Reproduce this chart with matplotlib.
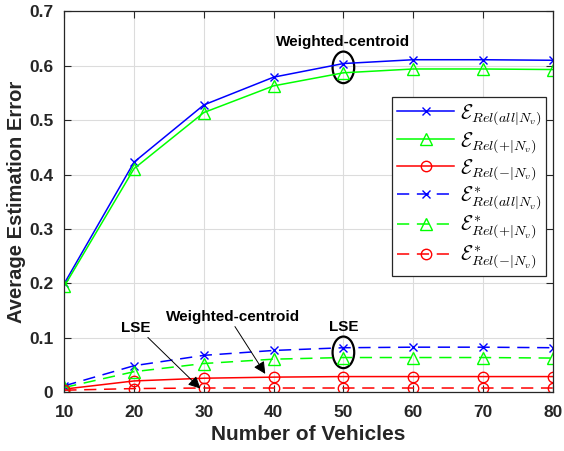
import matplotlib
matplotlib.use('Agg')
import matplotlib.pyplot as plt
from matplotlib.patches import Ellipse

plt.rcParams['font.family'] = 'Liberation Sans'
plt.rcParams['font.weight'] = 'bold'
plt.rcParams['mathtext.fontset'] = 'cm'

vehicles = [10, 20, 30, 40, 50, 60, 70, 80]
rel_all = [0.200, 0.423, 0.528, 0.579, 0.604, 0.611, 0.611, 0.610]
rel_pos = [0.195, 0.411, 0.514, 0.563, 0.587, 0.594, 0.594, 0.593]
rel_neg = [0.006, 0.021, 0.026, 0.028, 0.029, 0.029, 0.029, 0.029]
rel_all_s = [0.012, 0.049, 0.068, 0.077, 0.082, 0.083, 0.083, 0.082]
rel_pos_s = [0.009, 0.038, 0.053, 0.061, 0.064, 0.064, 0.064, 0.063]
rel_neg_s = [0.004, 0.007, 0.008, 0.008, 0.008, 0.008, 0.008, 0.008]

dark = '#262626'
green = (0, 1, 0)
dash = (0, (8, 5))

fig, ax = plt.subplots(figsize=(5.64, 4.51), dpi=100)
lw = 1.1
ax.plot(vehicles, rel_all, color='b', marker='x', ms=5.5, lw=lw,
        label=r'$\mathcal{E}_{Rel(all|N_v)}$')
ax.plot(vehicles, rel_pos, color=green, marker='^', ms=8, mfc='none', lw=lw,
        label=r'$\mathcal{E}_{Rel(+|N_v)}$')
ax.plot(vehicles, rel_neg, color='r', marker='o', ms=7.5, mfc='none', lw=lw,
        label=r'$\mathcal{E}_{Rel(-|N_v)}$')
ax.plot(vehicles, rel_all_s, color='b', marker='x', ms=5.5, lw=lw, ls=dash,
        label=r'$\mathcal{E}^*_{Rel(all|N_v)}$')
ax.plot(vehicles, rel_pos_s, color=green, marker='^', ms=8, mfc='none', lw=lw,
        ls=dash, label=r'$\mathcal{E}^*_{Rel(+|N_v)}$')
ax.plot(vehicles, rel_neg_s, color='r', marker='o', ms=7.5, mfc='none', lw=lw,
        ls=dash, label=r'$\mathcal{E}^*_{Rel(-|N_v)}$')

# circled groups and their method labels
ax.add_patch(Ellipse((50, 0.597), 3.1, 0.058, fill=False, color='k', lw=1.6))
ax.text(50, 0.630, 'Weighted-centroid', ha='center', va='bottom', fontsize=11, fontweight='bold')
ax.add_patch(Ellipse((50, 0.0735), 3.1, 0.058, fill=False, color='k', lw=1.6))
ax.text(50, 0.108, 'LSE', ha='center', va='bottom', fontsize=11, fontweight='bold')

ax.annotate('LSE', xy=(29.5, 0.007), xytext=(20.3, 0.106), ha='center', va='bottom',
            fontsize=11, fontweight='bold',
            arrowprops=dict(arrowstyle='-|>', color='k', lw=0.7, mutation_scale=18,
                            shrinkA=0, shrinkB=0, relpos=(0.8, 0)))
ax.annotate('Weighted-centroid', xy=(38.8, 0.034), xytext=(34.2, 0.126), ha='center', va='bottom',
            fontsize=11, fontweight='bold',
            arrowprops=dict(arrowstyle='-|>', color='k', lw=0.7, mutation_scale=18,
                            shrinkA=0, shrinkB=0, relpos=(0.5, 0)))

ax.set_xlim(10, 80)
ax.set_ylim(0, 0.7)
ax.set_xticks(vehicles)
ax.set_yticks([0, 0.1, 0.2, 0.3, 0.4, 0.5, 0.6, 0.7])
ax.set_yticklabels(['0', '0.1', '0.2', '0.3', '0.4', '0.5', '0.6', '0.7'])
ax.tick_params(direction='in', top=True, right=True, labelsize=12.5, length=5, width=0.8,
               colors=dark)
ax.tick_params(axis='y', pad=8)
ax.tick_params(axis='x', pad=9)
for lab in ax.get_xticklabels() + ax.get_yticklabels():
    lab.set_fontweight('bold')
ax.grid(True, color='#dcdcdc', lw=0.8)
ax.set_axisbelow(True)
for sp in ax.spines.values():
    sp.set_color(dark)
    sp.set_linewidth(0.9)
ax.set_xlabel('Number of Vehicles', fontsize=15, fontweight='bold', color=dark, labelpad=4)
ax.set_ylabel('Average Estimation Error', fontsize=14.5, fontweight='bold', color=dark, labelpad=2)

leg = ax.legend(loc='upper right', bbox_to_anchor=(0.995, 0.785), fontsize=14.5, fancybox=False,
                framealpha=1, edgecolor=dark, handlelength=2.8, borderpad=0.25,
                labelspacing=0.12, handletextpad=0.3, borderaxespad=0.2)
leg.get_frame().set_linewidth(0.9)

plt.subplots_adjust(left=0.114, bottom=0.13, right=0.98, top=0.975)
plt.savefig('out.png', dpi=100)
